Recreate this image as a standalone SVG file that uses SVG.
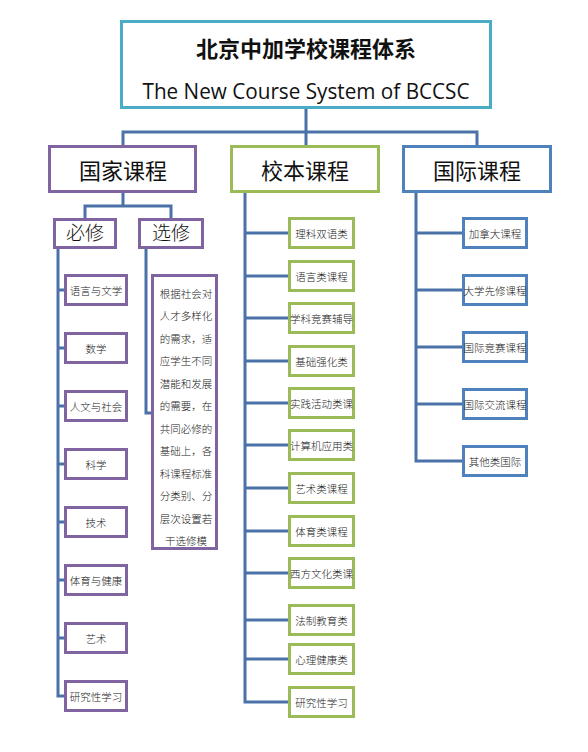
<svg xmlns="http://www.w3.org/2000/svg" width="588" height="752" viewBox="0 0 588 752">
<style>
  .bg{fill:#fff}
  rect{fill:#fff;stroke-width:3}
  .teal{stroke:#4bacc6}
  .pur{stroke:#8064a2}
  .grn{stroke:#9bbb59}
  .blu{stroke:#4f81bd}
  .conn{fill:none;stroke:#4a72a8;stroke-width:3}
  text{font-family:"Noto Sans CJK SC","Liberation Sans",sans-serif;fill:#111;text-anchor:middle;dominant-baseline:central}
  .title{font-size:22px;font-weight:bold}
  .en{font-family:"Open Sans","Noto Sans",sans-serif;font-size:21px}
  .h1{font-size:22px}
  .h2{font-size:19px;font-weight:300;font-family:"Liberation Serif","Noto Sans CJK SC",serif}
  .sm{font-size:10.5px;font-weight:300;fill:#222}
</style>
<rect class="bg" x="0" y="0" width="588" height="752" style="stroke:none"/>
<g id="connectors">
  <path class="conn" d="M306,109 V145 M123,145 V132 H477 V145"/>
  <path class="conn" d="M123,193 V206 M85,218 V206 H171 V218"/>
  <path class="conn" d="M58,249 V696 H64 M58,290 H64 M58,348 H64 M58,406 H64 M58,464 H64 M58,522 H64 M58,580 H64 M58,638 H64"/>
  <path class="conn" d="M146,249 V413 H151"/>
  <path class="conn" d="M245,193 V702 H288 M245,233 H288 M245,276 H288 M245,318 H288 M245,361 H288 M245,403 H288 M245,445 H288 M245,488 H288 M245,531 H288 M245,573 H288 M245,620 H288 M245,659 H288"/>
  <path class="conn" d="M416,192 V461 H462 M416,233 H462 M416,290 H462 M416,347 H462 M416,404 H462"/>
</g>
<g id="root">
  <rect class="teal" x="121.5" y="21.5" width="369" height="86"/>
  <text class="title" x="306" y="47">北京中加学校课程体系</text>
  <text class="en" x="306" y="91" textLength="327" lengthAdjust="spacingAndGlyphs">The New Course System of BCCSC</text>
</g>
<g id="guojia">
  <rect class="pur" x="49.5" y="146.5" width="146" height="45"/>
  <text class="h1" x="123" y="169">国家课程</text>
</g>
<g id="xiaoben">
  <rect class="grn" x="231.5" y="146.5" width="147" height="45"/>
  <text class="h1" x="305" y="169">校本课程</text>
</g>
<g id="guoji">
  <rect class="blu" x="403.5" y="146.5" width="147" height="45"/>
  <text class="h1" x="477" y="169">国际课程</text>
</g>
<g id="bixiu">
  <rect class="pur" x="54.5" y="219.5" width="61" height="28"/>
  <text class="h2" x="85" y="233">必修</text>
</g>
<g id="xuanxiu">
  <rect class="pur" x="139.5" y="219.5" width="63" height="28"/>
  <text class="h2" x="171" y="233">选修</text>
</g>
<g id="bx1"><rect class="pur" x="65.5" y="275.5" width="61" height="29"/><text class="sm" x="96" y="290">语言与文学</text></g>
<g id="bx2"><rect class="pur" x="65.5" y="333.5" width="61" height="29"/><text class="sm" x="96" y="348">数学</text></g>
<g id="bx3"><rect class="pur" x="65.5" y="391.5" width="61" height="29"/><text class="sm" x="96" y="406">人文与社会</text></g>
<g id="bx4"><rect class="pur" x="65.5" y="449.5" width="61" height="29"/><text class="sm" x="96" y="464">科学</text></g>
<g id="bx5"><rect class="pur" x="65.5" y="507.5" width="61" height="29"/><text class="sm" x="96" y="522">技术</text></g>
<g id="bx6"><rect class="pur" x="65.5" y="565.5" width="61" height="29"/><text class="sm" x="96" y="580">体育与健康</text></g>
<g id="bx7"><rect class="pur" x="65.5" y="623.5" width="61" height="29"/><text class="sm" x="96" y="638">艺术</text></g>
<g id="bx8"><rect class="pur" x="65.5" y="681.5" width="61" height="29"/><text class="sm" x="96" y="696">研究性学习</text></g>
<g id="xx-desc">
  <rect class="pur" x="152.5" y="275.5" width="64" height="273"/>
  <text class="sm" x="186" y="293">根据社会对</text>
  <text class="sm" x="186" y="315.5">人才多样化</text>
  <text class="sm" x="186" y="338">的需求，适</text>
  <text class="sm" x="186" y="360.5">应学生不同</text>
  <text class="sm" x="186" y="383">潜能和发展</text>
  <text class="sm" x="186" y="405.5">的需要，在</text>
  <text class="sm" x="186" y="428">共同必修的</text>
  <text class="sm" x="186" y="450.5">基础上，各</text>
  <text class="sm" x="186" y="473">科课程标准</text>
  <text class="sm" x="186" y="495.5">分类别、分</text>
  <text class="sm" x="186" y="518">层次设置若</text>
  <text class="sm" x="186" y="540.5">干选修模</text>
</g>
<g id="xb1"><rect class="grn" x="289.5" y="218.5" width="64" height="29"/><text class="sm" x="321.5" y="233">理科双语类</text></g>
<g id="xb2"><rect class="grn" x="289.5" y="261.5" width="64" height="29"/><text class="sm" x="321.5" y="276">语言类课程</text></g>
<g id="xb3"><rect class="grn" x="289.5" y="303.5" width="64" height="29"/><text class="sm" x="321.5" y="318">学科竞赛辅导</text></g>
<g id="xb4"><rect class="grn" x="289.5" y="346.5" width="64" height="29"/><text class="sm" x="321.5" y="361">基础强化类</text></g>
<g id="xb5"><rect class="grn" x="289.5" y="388.5" width="64" height="29"/><text class="sm" x="321.5" y="403">实践活动类课</text></g>
<g id="xb6"><rect class="grn" x="289.5" y="430.5" width="64" height="29"/><text class="sm" x="321.5" y="445">计算机应用类</text></g>
<g id="xb7"><rect class="grn" x="289.5" y="473.5" width="64" height="29"/><text class="sm" x="321.5" y="488">艺术类课程</text></g>
<g id="xb8"><rect class="grn" x="289.5" y="516.5" width="64" height="29"/><text class="sm" x="321.5" y="531">体育类课程</text></g>
<g id="xb9"><rect class="grn" x="289.5" y="558.5" width="64" height="29"/><text class="sm" x="321.5" y="573">西方文化类课</text></g>
<g id="xb10"><rect class="grn" x="289.5" y="605.5" width="64" height="29"/><text class="sm" x="321.5" y="620">法制教育类</text></g>
<g id="xb11"><rect class="grn" x="289.5" y="644.5" width="64" height="29"/><text class="sm" x="321.5" y="659">心理健康类</text></g>
<g id="xb12"><rect class="grn" x="289.5" y="687.5" width="64" height="29"/><text class="sm" x="321.5" y="702">研究性学习</text></g>
<g id="gj1"><rect class="blu" x="463.5" y="218.5" width="63" height="29"/><text class="sm" x="495" y="233">加拿大课程</text></g>
<g id="gj2"><rect class="blu" x="463.5" y="275.5" width="63" height="29"/><text class="sm" x="495" y="290">大学先修课程</text></g>
<g id="gj3"><rect class="blu" x="463.5" y="332.5" width="63" height="29"/><text class="sm" x="495" y="347">国际竞赛课程</text></g>
<g id="gj4"><rect class="blu" x="463.5" y="389.5" width="63" height="29"/><text class="sm" x="495" y="404">国际交流课程</text></g>
<g id="gj5"><rect class="blu" x="463.5" y="446.5" width="63" height="29"/><text class="sm" x="495" y="461">其他类国际</text></g>
</svg>
